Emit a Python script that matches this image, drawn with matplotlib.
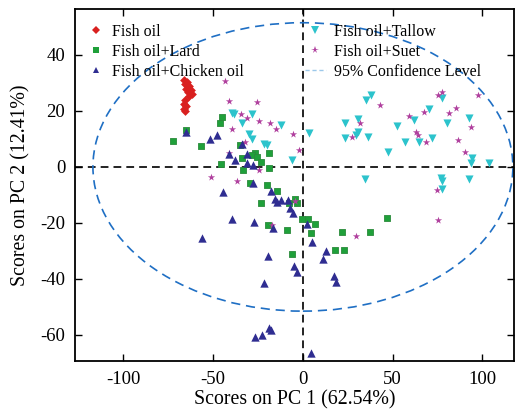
import numpy as np
import matplotlib
matplotlib.use('Agg')
import matplotlib.pyplot as plt
from matplotlib.patches import Ellipse
from matplotlib.lines import Line2D

plt.rcParams['font.family'] = 'Liberation Serif'
plt.rcParams['axes.unicode_minus'] = False

fish_x = [-66, -64.5, -65.5, -63.5, -65, -62.5, -64, -62, -63.5, -65.5, -66.5, -65, -66, -65.5]
fish_y = [31, 30.5, 29.5, 29, 28, 27.5, 26.8, 26, 25.2, 23.8, 22.5, 21.8, 20.8, 20]

lard_x = [-45.3, -46.2, -65.2, -72.6, -56.8, -45.5, -35, -26.7, -28.6, -25.8, -23.4, -34.2,
          -18.8, -18.9, -33.6, -29.5, -20.2, -14.7, -23.4, -4.3, -3.5, -7.6, -19.3, -9.1,
          -0.7, 2.6, -6, 6.5, 4.3, 21.9, 37.2, 46.6, 17.8, 22.8]
lard_y = [18, 15.6, 13.2, 9.3, 7.3, 1.1, 7.9, 4.9, 4.3, 3.7, 1.9, 3.3,
          4.9, -0.5, -1.1, -5.8, -6.4, -8.6, -13, -11.5, -13, -13, -20.8, -22.5,
          -18.7, -18.7, -31.2, -20.4, -23.7, -23.3, -23.3, -18.3, -29.8, -29.6]

chick_x = [-65, -51.8, -47.7, -34.2, -41, -37.9, -31.4, -31.4, -27.7, -27.7, -44.7, -17.8,
           -15.6, -12.3, -14.3, -8.5, -7.2, -5.7, -16.5, -39.7, -27.3, -56.3, -19.3, 2.4,
           -5, -3.2, -21.6, -18.8, -17.8, -26.7, -23, 4.5, 12.6, 11, 17.4, 18.2, 4.8]
chick_y = [12.6, 10, 11.5, 8.1, 4.5, 2.5, 4.5, 1.3, 0.7, -5.8, -9, -8.6,
           -11.5, -11.8, -12.7, -11.8, -14.8, -16.3, -21.7, -18.7, -19.5, -25.5, -31.8, -20.5,
           -35.4, -37.6, -41.3, -57.6, -58.2, -60.6, -60.2, -66.3, -30, -32.9, -38.8, -41, -26.9]

tallow_x = [-39.7, -38.4, -34.2, -28.2, -12.3, -29.9, -28.6, -21.7, -20.2, -6, 3.5, 23.4,
            23.4, 35.1, 37.9, 30.8, 30.5, 29.5, 36, 47.2, 52.2, 56.8, 34.5, 70.2,
            62, 77.3, 64.6, 72, 80.4, 92.6, 94.3, 93.4, 103.6, 76.7, 77.3, 77.3, 92.5]
tallow_y = [19.2, 18.8, 15.6, 18.8, 15, 11.8, 10, 8.1, 7.9, 2.5, 12, 15.6,
            10.3, 23.9, 25.7, 17, 12.4, 11.4, 10.8, 5.5, 14.6, 8.8, -4.4, 20.7,
            16.8, 24.5, 8.8, 10.5, 15.8, 17.4, 3.3, 1.3, 1.3, -3.8, -4.9, -8, -4.4]

suet_x = [-43.5, -41.2, -25.5, -34.5, -31, -24.3, -18.4, -15, -39.7, -32.3, -41, -2,
          -24.3, -51.3, -36.6, -5.7, 27.5, 31.8, 42.9, 59, 62.8, 64.3, 67.4, 68.5,
          75.4, 77.6, 81.3, 85.2, 86.5, 90.3, 93.6, 97.7, 75, 75.4, -4.3, -17.4, 29.5]
suet_y = [30.8, 23.6, 23.1, 18.8, 17.6, 16.4, 15.6, 13.5, 13.5, 8.8, 4.9, 6.1,
          -1.1, -3.7, -4.9, 11.8, 10.6, 15.6, 22.1, 18.3, 12.6, 11.4, 19.5, 9,
          25.7, 26.9, 19.4, 21, 9.6, 5.5, 14.4, 25.7, -8.2, -18.9, -12, -20.7, -24.6]

# 95% confidence ellipse (full axes)
ell_w, ell_h = 234, 103

fig = plt.figure(figsize=(5.15, 4.11), dpi=100)
ax = fig.add_axes([0.1456, 0.1217, 0.852, 0.8564])

ax.axhline(0, color='#222222', lw=1.4, ls=(0, (4, 2.6)), zorder=1)
ax.axvline(0, color='#222222', lw=1.4, ls=(0, (4, 2.6)), zorder=1)
ax.add_patch(Ellipse((0, 0), ell_w, ell_h, fill=False, ec='#1f6fc4', lw=1.2,
                     ls=(0, (5.5, 3.5)), zorder=1))

ax.scatter(fish_x, fish_y, marker='D', s=20, color='#d9201f', lw=0, zorder=3)
ax.scatter(lard_x, lard_y, marker='s', s=22, color='#1fa03a', ec='#2a8a3a', lw=0.6, zorder=3)
ax.scatter(tallow_x, tallow_y, marker='v', s=34, color='#2cc3cc', lw=0, zorder=3)
ax.scatter(suet_x, suet_y, marker='*', s=30, color='#b0409e', lw=0, zorder=3)
ax.scatter(chick_x, chick_y, marker='^', s=36, color='#2f2d91', lw=0, zorder=4)

h1 = [Line2D([], [], marker='D', ls='', color='#d9201f', ms=4, mew=0),
      Line2D([], [], marker='s', ls='', color='#1fa03a', ms=4.5, mew=0),
      Line2D([], [], marker='^', ls='', color='#2f2d91', ms=5, mew=0)]
l1 = ['Fish oil', 'Fish oil+Lard', 'Fish oil+Chicken oil']
h2 = [Line2D([], [], marker='v', ls='', color='#2cc3cc', ms=5.5, mew=0),
      Line2D([], [], marker='*', ls='', color='#b0409e', ms=5.5, mew=0),
      Line2D([], [], color='#9cc8ea', lw=1.0, ls=(0, (3, 2)))]
l2 = ['Fish oil+Tallow', 'Fish oil+Suet', '95% Confidence Level']

kw = dict(loc='upper left', frameon=False, fontsize=11.5, handlelength=1.3,
          labelspacing=0.25, borderpad=0, borderaxespad=0)
leg1 = ax.legend(h1, l1, bbox_to_anchor=(0.025, 0.958), handletextpad=0.3, **kw)
ax.add_artist(leg1)
ax.legend(h2, l2, bbox_to_anchor=(0.524, 0.958), handletextpad=0.5, **kw)

ax.set_xlim(-127, 117.5)
ax.set_ylim(-69.3, 56.4)
ax.set_xticks([-100, -50, 0, 50, 100])
ax.set_yticks([-60, -40, -20, 0, 20, 40])
ax.tick_params(direction='in', top=True, right=True, labelsize=13.5, length=5, width=1, pad=7)
for s in ax.spines.values():
    s.set_linewidth(1.3)
ax.set_xlabel('Scores on PC 1 (62.54%)', fontsize=14.3, labelpad=2)
ax.set_ylabel('Scores on PC 2 (12.41%)', fontsize=14.3, labelpad=7)

fig.savefig('out.png', dpi=100)
